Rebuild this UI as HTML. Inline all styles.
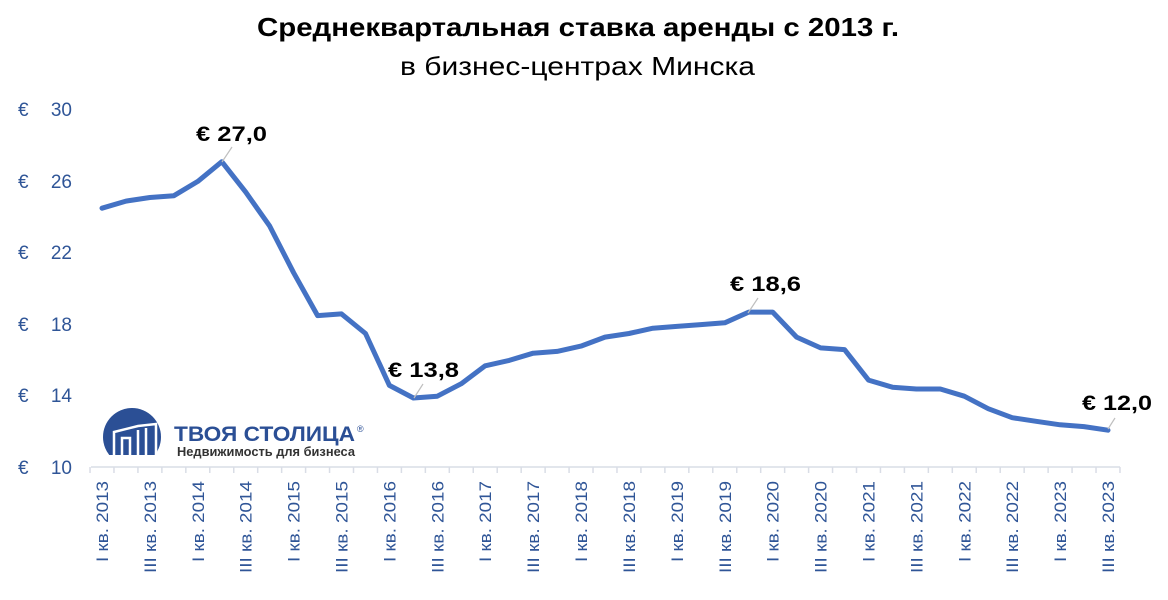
<!DOCTYPE html>
<html><head><meta charset="utf-8"><style>
body{margin:0;background:#fff;}
svg{display:block;font-family:"Liberation Sans","DejaVu Sans",sans-serif;}
</style></head><body>
<svg width="1168" height="600" viewBox="0 0 1168 600" xmlns="http://www.w3.org/2000/svg">
<rect width="1168" height="600" fill="#fff"/>
<text x="257" y="36" font-size="26" font-weight="bold" fill="#000" textLength="642" lengthAdjust="spacingAndGlyphs">Среднеквартальная ставка аренды с 2013 г.</text>
<text x="400" y="75" font-size="26" fill="#000" textLength="355" lengthAdjust="spacingAndGlyphs">в бизнес-центрах Минска</text>
<g font-size="19" fill="#2f5597">
<text x="18" y="116">€</text><text x="72" y="116" text-anchor="end">30</text>
<text x="18" y="188">€</text><text x="72" y="188" text-anchor="end">26</text>
<text x="18" y="259">€</text><text x="72" y="259" text-anchor="end">22</text>
<text x="18" y="331">€</text><text x="72" y="331" text-anchor="end">18</text>
<text x="18" y="402">€</text><text x="72" y="402" text-anchor="end">14</text>
<text x="18" y="474">€</text><text x="72" y="474" text-anchor="end">10</text>
</g>
<defs><clipPath id="lc"><rect x="90" y="400" width="100" height="55"/></clipPath></defs>
<circle cx="132" cy="437" r="29" fill="#2b4f95" clip-path="url(#lc)"/>
<g stroke="#fff" stroke-width="2.5" fill="none">
<path d="M114 455 V432 L138 426 L156 424 V455"/>
<path d="M122 455 V438 L130 438 V455"/>
<path d="M138 455 V430 M146 455 V428"/>
</g>
<text x="174" y="441" font-size="21" font-weight="bold" fill="#2b4f95" textLength="181" lengthAdjust="spacingAndGlyphs">ТВОЯ СТОЛИЦА</text>
<text x="357" y="432" font-size="9" fill="#2b4f95">®</text>
<text x="177" y="456" font-size="12.5" font-weight="bold" fill="#333" textLength="178" lengthAdjust="spacingAndGlyphs">Недвижимость для бизнеса</text>
<line x1="91" y1="467" x2="1120" y2="467" stroke="#d9dde6" stroke-width="1.5"/>
<g id="ticks" stroke="#d9dde6" stroke-width="1.5"></g>
<g id="xl" font-size="17" fill="#2f5597"></g>
<polyline id="ln" fill="none" stroke="#4472c4" stroke-width="5" stroke-linejoin="round" stroke-linecap="round"/>
<g stroke="#bfbfbf" stroke-width="1.2">
<line x1="222" y1="162" x2="232" y2="147"/>
<line x1="414" y1="398" x2="423" y2="384"/>
<line x1="748" y1="313" x2="758" y2="298"/>
<line x1="1108" y1="429" x2="1115" y2="418"/>
</g>
<g font-size="21" font-weight="bold" fill="#000">
<text x="196" y="141" textLength="71" lengthAdjust="spacingAndGlyphs">€  27,0</text>
<text x="388" y="377" textLength="71" lengthAdjust="spacingAndGlyphs">€  13,8</text>
<text x="730" y="291" textLength="71" lengthAdjust="spacingAndGlyphs">€  18,6</text>
<text x="1082" y="410" textLength="70" lengthAdjust="spacingAndGlyphs">€  12,0</text>
</g>
</svg>
<script>
var v=[24.4,24.8,25.0,25.1,25.9,27.0,25.3,23.4,20.8,18.4,18.5,17.4,14.5,13.8,13.9,14.6,15.6,15.9,16.3,16.4,16.7,17.2,17.4,17.7,17.8,17.9,18.0,18.6,18.6,17.2,16.6,16.5,14.8,14.4,14.3,14.3,13.9,13.2,12.7,12.5,12.3,12.2,12.0];
var x0=102,dx=(1108-102)/42,pts=[];
for(var i=0;i<v.length;i++){pts.push((x0+i*dx).toFixed(1)+","+(466-(v[i]-10)*17.9).toFixed(1));}
document.getElementById("ln").setAttribute("points",pts.join(" "));
var ns="http://www.w3.org/2000/svg",t=document.getElementById("ticks"),xl=document.getElementById("xl");
for(var i=0;i<=43;i++){var l=document.createElementNS(ns,"line");var x=x0-dx/2+i*dx;l.setAttribute("x1",x);l.setAttribute("x2",x);l.setAttribute("y1",467);l.setAttribute("y2",473);t.appendChild(l);}
for(var i=0;i<43;i+=2){var q=i%4==0?"I":"III";var y=2013+Math.floor(i/4);var tx=document.createElementNS(ns,"text");var x=x0+i*dx+6;tx.setAttribute("transform","translate("+x+",481) rotate(-90)");tx.setAttribute("text-anchor","end");tx.setAttribute("textLength",q=="I"?81:92);tx.setAttribute("lengthAdjust","spacingAndGlyphs");tx.textContent=q+" кв. "+y;xl.appendChild(tx);}
</script>
</body></html>
